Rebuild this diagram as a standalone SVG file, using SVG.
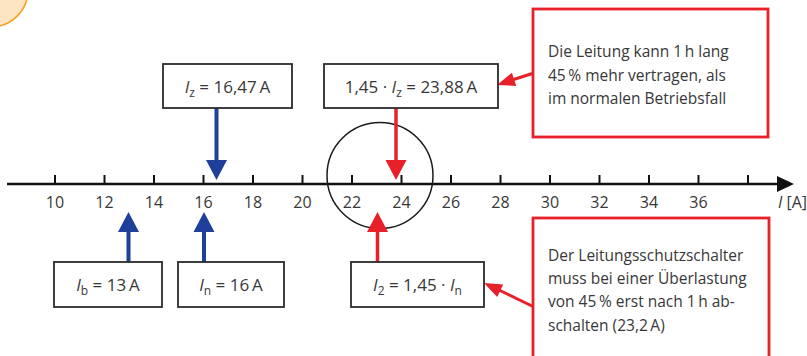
<svg xmlns="http://www.w3.org/2000/svg" width="807" height="356" viewBox="0 0 807 356">
<style>
text{font-family:"Open Sans","Noto Sans","Liberation Sans",sans-serif;fill:#383838;}
.ax{font-size:16px;text-anchor:middle;}
.bt{font-size:17px;text-anchor:middle;}
.ct{font-size:15.5px;}
.box{fill:#fff;stroke:#2b2b2b;stroke-width:1.8;}
.rbox{fill:#fff;stroke:#e8202a;stroke-width:2.8;}
.tick{stroke:#111;stroke-width:2;}
.blue{stroke:#1e3f9a;stroke-width:4;fill:none;}
.red{stroke:#e8202a;stroke-width:3.5;fill:none;}
.bh{fill:#1e3f9a;}
.rh{fill:#e8202a;}
.it{font-style:italic;}
</style>
<rect width="807" height="356" fill="#fff"/>
<circle cx="-9" cy="-10" r="37" fill="#fde4c2" stroke="#f5a21e" stroke-width="1.6"/>

<g id="axis">
<line x1="7" y1="184" x2="779" y2="184" stroke="#111" stroke-width="2.6"/>
<polygon points="777,176 794,184 777,192" fill="#111"/>
<g class="tick">
<line x1="55" y1="175" x2="55" y2="184"/>
<line x1="104.5" y1="175" x2="104.5" y2="184"/>
<line x1="154" y1="175" x2="154" y2="184"/>
<line x1="203.5" y1="175" x2="203.5" y2="184"/>
<line x1="253" y1="175" x2="253" y2="184"/>
<line x1="302.5" y1="175" x2="302.5" y2="184"/>
<line x1="352" y1="175" x2="352" y2="184"/>
<line x1="401.5" y1="175" x2="401.5" y2="184"/>
<line x1="451" y1="175" x2="451" y2="184"/>
<line x1="500.5" y1="175" x2="500.5" y2="184"/>
<line x1="550" y1="175" x2="550" y2="184"/>
<line x1="599.5" y1="175" x2="599.5" y2="184"/>
<line x1="649" y1="175" x2="649" y2="184"/>
<line x1="698.5" y1="175" x2="698.5" y2="184"/>
<line x1="748" y1="175" x2="748" y2="184"/>
</g>
<text class="ax" x="55" y="207.5">10</text>
<text class="ax" x="104.5" y="207.5">12</text>
<text class="ax" x="154" y="207.5">14</text>
<text class="ax" x="203.5" y="207.5">16</text>
<text class="ax" x="253" y="207.5">18</text>
<text class="ax" x="302.5" y="207.5">20</text>
<text class="ax" x="352" y="207.5">22</text>
<text class="ax" x="401.5" y="207.5">24</text>
<text class="ax" x="451" y="207.5">26</text>
<text class="ax" x="500.5" y="207.5">28</text>
<text class="ax" x="550" y="207.5">30</text>
<text class="ax" x="599.5" y="207.5">32</text>
<text class="ax" x="649" y="207.5">34</text>
<text class="ax" x="698.5" y="207.5">36</text>
<text x="778" y="207.5" font-size="16"><tspan class="it">I</tspan> [A]</text>
</g>

<circle id="highlight" cx="380" cy="175.5" r="53" fill="none" stroke="#1a1a1a" stroke-width="1.5"/>

<g id="connectors">
<line class="blue" x1="216.5" y1="108" x2="216.5" y2="162"/>
<polygon class="bh" points="206,160 227,160 216.5,180"/>
<line class="red" x1="396" y1="108" x2="396" y2="162"/>
<polygon class="rh" points="385.5,160 406.5,160 396,180"/>
<line class="blue" x1="128.5" y1="230" x2="128.5" y2="262"/>
<polygon class="bh" points="118,232 139,232 128.5,212"/>
<line class="blue" x1="204" y1="230" x2="204" y2="262"/>
<polygon class="bh" points="193.5,232 214.5,232 204,212"/>
<line class="red" x1="377.5" y1="230" x2="377.5" y2="262"/>
<polygon class="rh" points="367,232 388,232 377.5,212"/>
<line x1="534" y1="73" x2="512" y2="80" stroke="#e8202a" stroke-width="3"/>
<polygon class="rh" points="497,85 516.3,85.9 511.9,72.7"/>
<line x1="534" y1="307" x2="499" y2="290" stroke="#e8202a" stroke-width="3"/>
<polygon class="rh" points="484,283 503.2,284.5 497.2,297.1"/>
</g>

<g id="node-iz">
<rect class="box" x="163" y="64" width="129" height="44"/>
<text class="bt" x="227.5" y="93"><tspan class="it">I</tspan><tspan font-size="12" dy="4">z</tspan><tspan dy="-4"> = 16,47&#8201;A</tspan></text>
</g>

<g id="node-145iz">
<rect class="box" x="324" y="64" width="174" height="44"/>
<text class="bt" x="411" y="93">1,45 · <tspan class="it">I</tspan><tspan font-size="12" dy="4">z</tspan><tspan dy="-4"> = 23,88&#8201;A</tspan></text>
</g>

<g id="node-ib">
<rect class="box" x="54" y="262" width="108" height="45"/>
<text class="bt" x="108" y="291"><tspan class="it">I</tspan><tspan font-size="12" dy="4">b</tspan><tspan dy="-4"> = 13&#8201;A</tspan></text>
</g>

<g id="node-in">
<rect class="box" x="178" y="262" width="106" height="45"/>
<text class="bt" x="231" y="291"><tspan class="it">I</tspan><tspan font-size="12" dy="4">n</tspan><tspan dy="-4"> = 16&#8201;A</tspan></text>
</g>

<g id="node-i2">
<rect class="box" x="351" y="262" width="133" height="45"/>
<text class="bt" x="417.5" y="291"><tspan class="it">I</tspan><tspan font-size="12" dy="4">2</tspan><tspan dy="-4"> = 1,45 · </tspan><tspan class="it">I</tspan><tspan font-size="12" dy="4">n</tspan></text>
</g>

<g id="note-top">
<rect class="rbox" x="533" y="9" width="235" height="128"/>
<text class="ct" x="548" y="57">Die Leitung kann 1&#8201;h lang</text>
<text class="ct" x="548" y="81">45&#8201;% mehr vertragen, als</text>
<text class="ct" x="548" y="104">im normalen Betriebsfall</text>
</g>

<g id="note-bottom">
<rect class="rbox" x="533" y="218" width="236" height="150"/>
<text class="ct" x="548" y="261">Der Leitungsschutzschalter</text>
<text class="ct" x="548" y="284">muss bei einer Überlastung</text>
<text class="ct" x="548" y="307">von 45&#8201;% erst nach 1&#8201;h ab-</text>
<text class="ct" x="548" y="331">schalten (23,2&#8201;A)</text>
</g>
</svg>
